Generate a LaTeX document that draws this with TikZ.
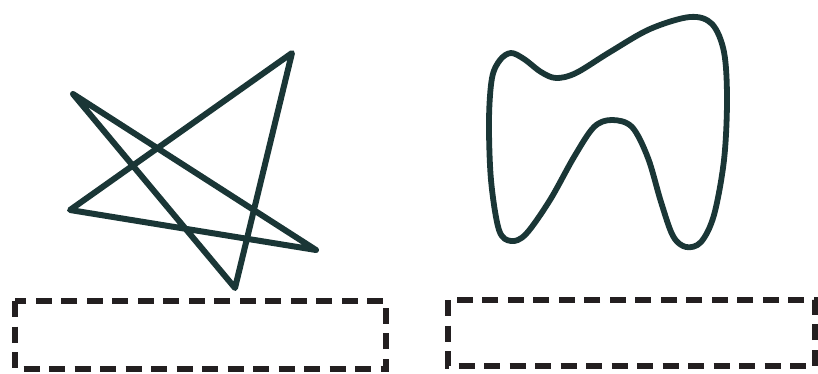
\documentclass[tikz,border=0pt]{standalone}
\begin{document}
\begin{tikzpicture}[x=1pt,y=-1pt,
  ink/.style={draw=inkcol,line width=6pt,line join=round,line cap=round},
  dashbox/.style={draw=boxcol,line width=6pt,dash pattern=on 16pt off 9.5pt}]
\definecolor{inkcol}{HTML}{1A3636}
\definecolor{boxcol}{HTML}{231F20}
\useasboundingbox (0,0) rectangle (818,374);
% star
\coordinate (s1) at (73,94);
\coordinate (s2) at (235,288);
\coordinate (s3) at (292,53);
\coordinate (s4) at (70,210);
\coordinate (s5) at (316,250);
\draw[ink] (s1) -- (s2) -- (s3) -- (s4) -- (s5) -- cycle;
% tooth
\draw[ink,line width=5.8pt] plot[smooth cycle,tension=0.55] coordinates {
 (500,60) (511,53) (524,59) (541,72) (556,78) (576,73) (610,52) (650,29) (690,17)
 (712,24) (724,52) (727,100) (724,160) (714,215) (701,242) (686,247) (673,236)
 (661,202) (648,158) (632,127) (612,120) (594,127) (574,157) (550,200) (526,234)
 (511,241) (499,230) (491,180) (489,120) (492,78)};
% boxes
\coordinate (b1a) at (15,301);
\coordinate (b1b) at (386,369);
\coordinate (b2a) at (448,300);
\coordinate (b2b) at (815,366);
\draw[dashbox] (b1a) rectangle (b1b);
\draw[dashbox] (b2a) rectangle (b2b);
\end{tikzpicture}
\end{document}
